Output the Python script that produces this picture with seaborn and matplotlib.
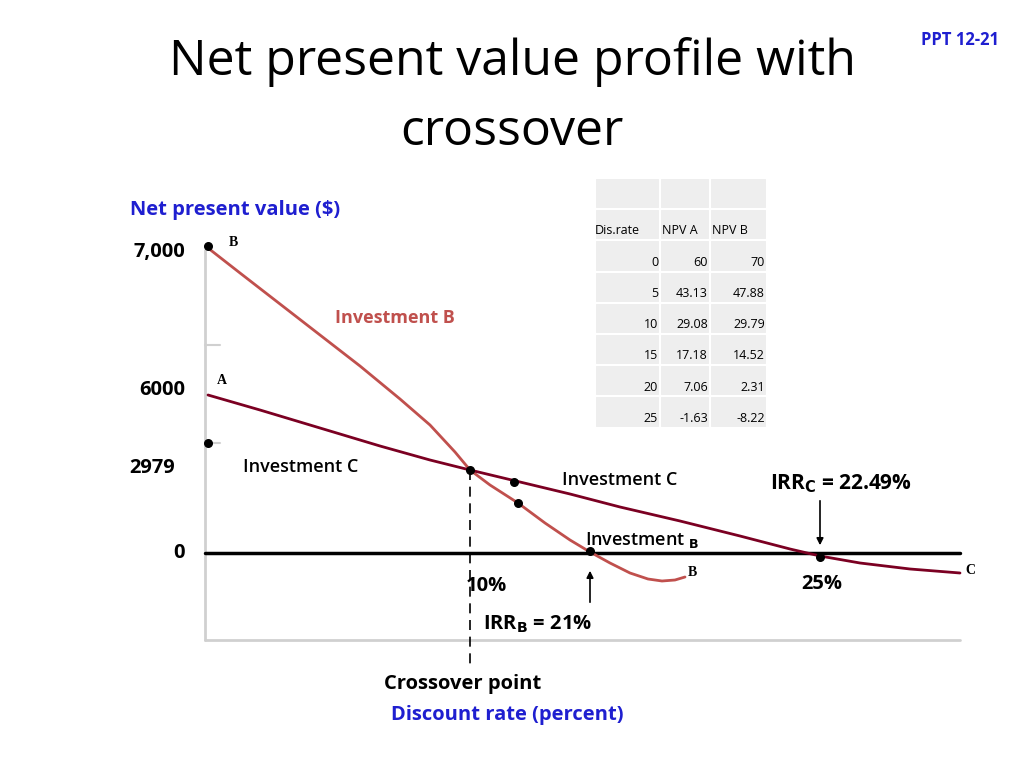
import matplotlib
matplotlib.use("Agg")
import matplotlib.pyplot as plt
import seaborn as sns

# curves (pixel-like coordinates of the drawing area)
b_x = [208, 240, 280, 320, 360, 400, 430, 455, 470, 490, 518, 545, 570, 590, 610, 630, 648, 662, 675, 685]
b_y = [248, 273, 304, 335, 366, 399, 425, 452, 470, 485, 503, 523, 540, 552, 563, 573, 579, 581, 580, 577]
a_x = [208, 260, 320, 380, 430, 470, 520, 570, 620, 680, 740, 790, 820, 860, 910, 960]
a_y = [395, 410, 428, 446, 460, 470, 482, 494, 507, 521, 536, 549, 556, 563, 569, 573]
dots_x = [208, 208, 470, 514, 518, 590, 820]
dots_y = [246, 443, 470, 482, 503, 551, 557]

rates = [0, 5, 10, 15, 20, 25]
npv_a = ["60", "43.13", "29.08", "17.18", "7.06", "-1.63"]
npv_b = ["70", "47.88", "29.79", "14.52", "2.31", "-8.22"]

sns.set_style("white")
plt.rcParams["text.color"] = "black"
fig = plt.figure(figsize=(10.24, 7.68), dpi=100)
ax = fig.add_axes([0, 0, 1, 1])
ax.set_xlim(0, 1024)
ax.set_ylim(768, 0)
ax.axis("off")
font = "Open Sans"

# axes of the sketch
ax.plot([205, 205], [250, 640], color="#d0d0d0", lw=2)
ax.plot([205, 960], [640, 640], color="#d0d0d0", lw=2)
ax.plot([205, 220], [345, 345], color="#d0d0d0", lw=1.5)
ax.plot([205, 220], [443, 443], color="#d0d0d0", lw=1.5)
ax.plot([205, 960], [553, 553], color="black", lw=2.5)

sns.lineplot(x=b_x, y=b_y, ax=ax, color="#c0504d", lw=2, sort=False)
sns.lineplot(x=a_x, y=a_y, ax=ax, color="#7b0022", lw=2, sort=False)
ax.scatter(dots_x, dots_y, color="black", s=30, zorder=5)

ax.plot([470, 470], [470, 670], color="black", lw=1.2, ls=(0, (6, 4)))
ax.annotate("", xy=(590, 568), xytext=(590, 605),
            arrowprops=dict(arrowstyle="-|>", color="black", lw=1.2))
ax.annotate("", xy=(820, 548), xytext=(820, 498),
            arrowprops=dict(arrowstyle="-|>", color="black", lw=1.2))

# table
left, top, cw, rh = 595, 178, [65, 50, 57], 31.2
for r in range(8):
    x = left
    for c in range(3):
        ax.add_patch(plt.Rectangle((x, top + r * rh), cw[c], rh,
                                   facecolor="#eeeeee", edgecolor="white", lw=1.5))
        x += cw[c]
ax.text(595, 231, "Dis.rate", fontsize=9, family=font, va="center")
ax.text(662, 231, "NPV A", fontsize=9, family=font, va="center")
ax.text(712, 231, "NPV B", fontsize=9, family=font, va="center")
for i, (r, a, b) in enumerate(zip(rates, npv_a, npv_b)):
    y = 262 + i * 31.3
    ax.text(658, y, str(r), fontsize=9, family=font, ha="right", va="center")
    ax.text(708, y, a, fontsize=9, family=font, ha="right", va="center")
    ax.text(765, y, b, fontsize=9, family=font, ha="right", va="center")

# text
ax.text(512, 62, "Net present value profile with", fontsize=36, family=font, ha="center", va="center")
ax.text(512, 132, "crossover", fontsize=36, family=font, ha="center", va="center")
ax.text(960, 40, "PPT 12-21", fontsize=12, family=font, ha="center", va="center",
        color="#1f1fd0", weight="bold")
ax.text(130, 210, "Net present value ($)", fontsize=14.5, family=font, va="center",
        color="#1f1fd0", weight="bold")
ax.text(507, 715, "Discount rate (percent)", fontsize=14.5, family=font, ha="center",
        va="center", color="#1f1fd0", weight="bold")
ax.text(463, 684, "Crossover point", fontsize=14.5, family=font, ha="center", va="center", weight="bold")
bold = dict(fontsize=14.5, family=font, va="center", weight="bold")
ax.text(185, 252, "7,000", ha="right", **bold)
ax.text(185, 390, "6000", ha="right", **bold)
ax.text(175, 468, "2979", ha="right", **bold)
ax.text(185, 553, "0", ha="right", **bold)
ax.text(486, 586, "10%", ha="center", **bold)
ax.text(822, 584, "25%", ha="center", **bold)
ax.text(483, 624, r"IRR$_\mathbf{B}$ = 21%", **bold)
ax.text(770, 484, r"IRR$_\mathbf{C}$ = 22.49%", fontsize=15, family=font, va="center", weight="bold")
ax.text(395, 318, "Investment B", fontsize=13, family=font, ha="center", va="center",
        color="#c0504d", weight="bold")
med = dict(fontsize=13, family=font, va="center", weight="semibold")
ax.text(243, 467, "Investment C", **med)
ax.text(562, 480, "Investment C", **med)
ax.text(585, 540, r"Investment $_\mathbf{B}$", **med)
serif = dict(fontsize=10, family="Liberation Serif", va="center", weight="bold")
ax.text(229, 243, "B", **serif)
ax.text(217, 381, "A", **serif)
ax.text(688, 573, "B", **serif)
ax.text(965, 570, "C", **serif)

fig.savefig("out.png", dpi=100)
